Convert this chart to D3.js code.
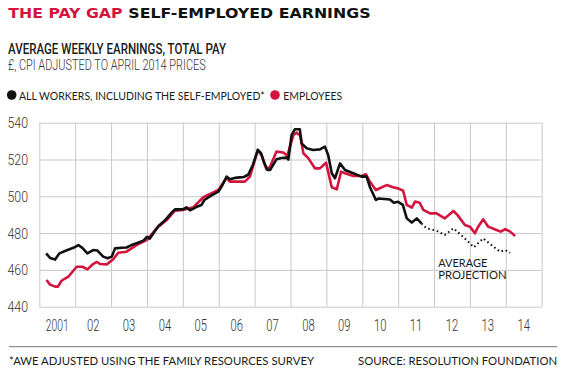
<!DOCTYPE html>
<html><head><meta charset="utf-8">
<script src="https://cdn.jsdelivr.net/npm/d3@7"></script>
<style>
html,body{margin:0;padding:0;background:#fff;}
svg{display:block;}
</style></head>
<body>
<svg id="c" width="564" height="371"></svg>
<script>
// ---- data (decimal year, £/week) ----
const yTicks = [440, 460, 480, 500, 520, 540];
const xTickYears = [2001,2002,2003,2004,2005,2006,2007,2008,2009,2010,2011,2012,2013,2014];
const xTickLabels = ["2001","02","03","04","05","06","07","08","09","10","11","12","13","14"];

const allWorkers = [
[2001.19,469],[2001.3,466.5],[2001.44,465.6],[2001.56,469],[2001.75,470.5],[2001.95,472],[2002.09,473.5],[2002.2,472],[2002.34,469],[2002.5,470.8],[2002.62,470.5],[2002.78,467.2],[2002.9,466.3],[2003.02,467.2],[2003.11,471.7],[2003.3,472],[2003.43,472.2],[2003.57,473.5],[2003.75,474.8],[2003.9,475.9],[2004.0,478],[2004.08,477],[2004.2,480.5],[2004.32,483.9],[2004.45,486],[2004.55,488],[2004.68,491],[2004.78,492.9],[2005.0,492.9],[2005.1,494],[2005.2,492.4],[2005.39,494.3],[2005.52,495.3],[2005.6,498],[2005.8,500.5],[2005.99,502.5],[2006.1,506],[2006.22,510.7],[2006.31,509.3],[2006.45,510],[2006.59,510.3],[2006.7,510.5],[2006.82,511.7],[2006.95,517],[2007.09,525.2],[2007.18,523.4],[2007.27,518],[2007.36,514.3],[2007.43,514.3],[2007.61,520.1],[2007.75,520.8],[2007.89,521],[2007.94,520],[2008.03,533.3],[2008.12,536.4],[2008.26,536.4],[2008.31,528.8],[2008.45,526.1],[2008.63,525.2],[2008.82,525.5],[2008.96,527],[2009.05,522.4],[2009.15,512.5],[2009.24,509.8],[2009.38,517.9],[2009.52,514.3],[2009.75,512.5],[2009.98,510.7],[2010.12,510.7],[2010.21,505.2],[2010.38,498],[2010.45,498.8],[2010.77,498.3],[2010.88,496.5],[2011.0,497],[2011.13,495.3],[2011.24,488],[2011.38,485.7],[2011.52,488],[2011.65,485.3]
];
const projection = [
[2011.65,485.3],[2011.79,482.6],[2012.07,481.3],[2012.3,479],[2012.54,482.6],[2012.81,478],[2013.11,472.3],[2013.37,477.1],[2013.6,473.5],[2013.84,469.9],[2013.98,470.8],[2014.12,469.3]
];
const employees = [
[2001.2,454.5],[2001.3,452],[2001.44,450.9],[2001.52,450.9],[2001.62,454.1],[2001.81,456.3],[2002.04,461.7],[2002.2,461.7],[2002.34,460.3],[2002.5,463.2],[2002.6,464.3],[2002.7,463.2],[2002.88,463],[2003.06,465.8],[2003.2,469.3],[2003.43,469.9],[2003.71,473.5],[2004.0,476.3],[2004.27,482.6],[2004.55,487.1],[2004.78,492.2],[2005.0,492.6],[2005.29,494],[2005.57,499.5],[2005.99,503.4],[2006.22,510.1],[2006.31,508],[2006.73,508],[2006.87,510.7],[2007.09,525.2],[2007.2,522],[2007.33,514.7],[2007.43,516],[2007.61,524.3],[2007.8,523.8],[2007.91,522],[2008.08,533.3],[2008.17,534.6],[2008.27,533],[2008.36,523.4],[2008.5,520.6],[2008.68,515.2],[2008.82,515.2],[2008.99,518.3],[2009.15,504.9],[2009.29,503.8],[2009.41,513.4],[2009.52,512.5],[2009.75,511],[2009.98,511],[2010.1,512],[2010.21,508],[2010.38,503.4],[2010.68,506.1],[2010.86,504.9],[2011.0,504.3],[2011.14,503],[2011.24,495.3],[2011.38,493.8],[2011.47,497.1],[2011.6,496.5],[2011.7,492.6],[2011.89,490.7],[2012.07,490.7],[2012.3,488],[2012.54,492],[2012.65,489.9],[2012.86,484.4],[2013.0,483.5],[2013.14,479.9],[2013.23,483.5],[2013.37,487.5],[2013.51,483.5],[2013.74,481.7],[2013.86,480.8],[2013.98,482.2],[2014.12,480.8],[2014.26,478.4]
];

const RED = "#d5143d", BLACK = "#111", GRID = "#c9c9c9", TXT = "#1a1a1a";
const svg = d3.select("#c");

const x = d3.scaleLinear().domain([2001, 2015]).range([39.3, 541.7]);
const y = d3.scaleLinear().domain([440, 540]).range([306.7, 122.7]);

// Text placed at (px,py), horizontally scaled so its width matches w (keeps glyph height).
function label(px, py, txt, font, w, fill, anchor){
  const t = svg.append("text").attr("x",0).attr("y",0)
    .attr("text-anchor", anchor || "start").attr("fill", fill || TXT)
    .style("font", font).text(txt);
  const nat = t.node().getComputedTextLength();
  const sx = nat > 0 ? w / nat : 1;
  t.attr("transform", `translate(${px},${py}) scale(${sx.toFixed(4)},1)`);
  return t;
}

// ---- title block ----
label(8.3, 18, "THE PAY GAP", "bold 14px 'DejaVu Sans'", 114.4, RED);
label(128.3, 18, "SELF-EMPLOYED EARNINGS", "bold 14px 'DejaVu Sans'", 242.4, "#111");
label(8, 53.5, "AVERAGE WEEKLY EARNINGS, TOTAL PAY", "500 14px Roboto", 218, TXT);
label(8, 70, "£, CPI ADJUSTED TO APRIL 2014 PRICES", "300 14px Roboto", 197.7, "#333");

// legend
svg.append("circle").attr("cx",11.7).attr("cy",95).attr("r",4.8).attr("fill",BLACK);
label(19, 99.5, "ALL WORKERS, INCLUDING THE SELF-EMPLOYED*", "12px Lato", 246, TXT);
svg.append("circle").attr("cx",275).attr("cy",95).attr("r",4.8).attr("fill",RED);
label(283.3, 99.5, "EMPLOYEES", "12px Lato", 59, TXT);

// ---- grid ----
const g = svg.append("g");
g.append("g").call(d3.axisLeft(y).tickValues(yTicks).tickSize(-(x(2015)-x(2001))).tickFormat(""))
  .attr("transform",`translate(${x(2001)},0)`)
  .call(s=>{s.select(".domain").remove(); s.selectAll("line").attr("stroke",GRID).attr("stroke-width",1);});
g.append("g").call(d3.axisBottom(x).tickValues(d3.range(2001,2016)).tickSize(-(y(440)-y(540))).tickFormat(""))
  .attr("transform",`translate(0,${y(440)})`)
  .call(s=>{s.select(".domain").remove(); s.selectAll("line").attr("stroke",GRID).attr("stroke-width",1);});

// axis labels
yTicks.forEach(v=>{
  label(28, y(v)+5.5, String(v), "300 15px Roboto", 20.5, "#333", "end");
});
xTickYears.forEach((yr,i)=>{
  const lab = xTickLabels[i];
  label(x(yr+0.5), 330.5, lab, "300 16px Roboto", lab.length===4 ? 23 : 12.5, "#333", "middle");
});

// ---- lines ----
const line = d3.line().x(d=>x(d[0])).y(d=>y(d[1]));
svg.append("path").datum(employees).attr("d",line).attr("fill","none")
  .attr("stroke",RED).attr("stroke-width",2.6).attr("stroke-linejoin","round");
svg.append("path").datum(projection).attr("d",line).attr("fill","none")
  .attr("stroke",BLACK).attr("stroke-width",2).attr("stroke-dasharray","1.6,2.8");
svg.append("path").datum(allWorkers).attr("d",line).attr("fill","none")
  .attr("stroke",BLACK).attr("stroke-width",2.6).attr("stroke-linejoin","round");

// projection label
label(438.3, 267.3, "AVERAGE", "10.5px Lato", 49, TXT);
label(438.3, 278.6, "PROJECTION", "10.5px Lato", 68.4, TXT);

// ---- footer ----
svg.append("line").attr("x1",9).attr("x2",557.3).attr("y1",346.7).attr("y2",346.7)
  .attr("stroke","#777").attr("stroke-width",1);
label(9, 365.3, "*AWE ADJUSTED USING THE FAMILY RESOURCES SURVEY", "12px Lato", 305.3, TXT);
label(358, 365.3, "SOURCE: RESOLUTION FOUNDATION", "12px Lato", 199.3, TXT);
</script>
</body></html>
